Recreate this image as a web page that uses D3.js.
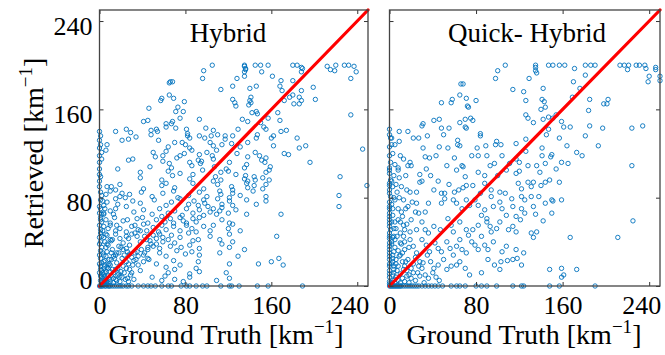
<!DOCTYPE html>
<html><head><meta charset="utf-8">
<script src="https://cdn.jsdelivr.net/npm/d3@7"></script>
<style>
body{margin:0;background:#fff}
svg{display:block}
text{font-family:"Liberation Serif","Times New Roman",serif;fill:#000}
</style>
</head><body>
<svg id="c" width="665" height="355"></svg>
<script>
const panelTitles = ["Hybrid", "Quick- Hybrid"];
const tickValues = [0, 80, 160, 240];
const axisDomain = [0, 250];
const xAxisTitle = "Ground Truth [km";
const yAxisTitle = "Retrieved [km";

// [ground truth, retrieved]
const hybridPoints = [
[105,200],[97,195],[96,188],[135,200],[135,199],[136,197],[136,196],[135,194],[135,190],[145,200],[150,200],[151,194],[157,200],[161,190],[169,186],[180,200],[184,200],[188,198],[189,197],[188,194],[212,199],[215,196],[219,195],[220,200],[228,200],[232,200],[237,199],[239,194],[234,188],[124,181],[128,188],[113,178],[146,181],[140,179],[168,181],[170,177],[180,186],[199,180],[188,177],
[65,184],[66,185],[68,185],[57,168],[58,170],[65,173],[69,170],[79,167],[73,162],[46,161],[71,158],[75,152],[78,158],[68,149],[62,147],[67,147],[41,149],[45,150],[93,151],[71,143],[99,143],[82,138],[82,136],[84,134],[53,142],[54,140],[48,141],[48,137],[55,132],[15,140],[25,142],[29,139],[34,135],[21,132],[27,133],[93,136],[98,134],[104,136],[117,136],[103,130],[114,128],[0,132],[70,130],
[234,155],[245,124],[249,91],[224,99],[223,82],[223,72],[196,112],[192,127],[184,134],[176,119],[172,120],[169,65],[165,45],[167,25],[171,19],[148,20],[160,22],
[124,169],[140,168],[141,171],[177,171],[180,173],[201,169],[172,168],[186,171],[188,168],
[126,166],[127,163],[139,164],[141,166],[181,165],[186,165],
[146,158],[147,156],[166,157],[142,157],
[133,151],[138,149],[150,148],[157,152],[168,150],
[62,144],[81,142],[106,141],[129,142],[153,144],[155,142],[169,140],[174,141],
[110,137],[117,133],[124,136],[146,134],[147,137],[160,134],[162,136],
[7,128],[64,126],[77,130],[80,128],[84,125],[106,127],[123,129],[131,126],[138,130],[162,127],[186,125],
[2,121],[6,123],[50,121],[52,117],[59,118],[62,122],[75,118],[79,120],[86,123],[93,119],[100,121],[105,118],[109,123],[128,120],[138,117],[145,121],[149,118],
[2,115],[27,114],[31,115],[59,113],[65,111],[72,116],[84,112],[92,114],[94,111],[95,113],[106,115],[121,112],[137,110],[151,114],[154,112],[155,116],
[17,106],[38,103],[47,108],[64,104],[67,107],[75,102],[86,109],[96,105],[107,108],[113,103],[118,106],[120,104],[135,107],[155,103],[158,105],[159,108],
[0,101],[1,99],[38,98],[58,96],[68,100],[84,97],[87,101],[106,95],[108,99],[113,96],[127,101],[135,97],[136,100],[138,95],[144,99],[145,96],[152,98],[158,96],
[7,90],[11,90],[15,87],[19,92],[41,88],[58,91],[62,93],[70,89],[87,93],[97,88],[110,92],[123,90],[124,87],[137,93],[138,89],[144,91],[152,88],[155,92],
[1,85],[2,82],[10,86],[19,81],[21,84],[24,80],[28,83],[39,85],[49,81],[59,84],[69,86],[73,80],[83,82],[93,85],[100,81],[112,86],[113,83],[121,80],[124,84],[131,82],[143,86],[155,81],
[1,78],[4,73],[7,76],[15,79],[17,74],[25,72],[31,77],[38,75],[51,78],[62,73],[67,76],[75,79],[83,74],[88,77],[92,73],[97,78],[98,75],[101,72],[110,79],[114,74],[121,77],[124,73],[137,78],[146,74],[155,77],
[1,70],[4,66],[10,68],[13,65],[15,70],[32,67],[41,69],[49,65],[56,70],[64,66],[70,68],[77,64],[81,70],[87,66],[93,69],[97,64],[103,67],[106,70],[109,65],[112,68],[114,71],[120,66],[127,69],[137,65],
[1,62],[2,58],[6,60],[10,57],[14,62],[22,59],[35,61],[45,57],[53,60],[58,63],[61,58],[66,61],[69,57],[75,62],[78,59],[81,57],[87,61],[90,58],[93,62],[114,60],[121,57],
[0,55],[1,51],[4,54],[15,50],[16,55],[19,52],[25,49],[30,54],[36,51],[41,56],[44,50],[50,53],[55,49],[58,55],[62,51],[69,54],[75,50],[81,55],[86,52],[90,49],[97,54],[103,50],[106,55],[120,52],[124,56],[131,50],
[1,48],[4,44],[7,46],[10,42],[15,47],[19,43],[25,45],[33,48],[44,42],[50,46],[53,43],[56,47],[59,44],[64,42],[67,46],[75,44],[83,48],[92,42],[103,45],[112,42],[121,47],
[1,40],[2,35],[7,38],[11,41],[18,36],[22,39],[25,34],[28,37],[38,40],[45,35],[53,38],[56,34],[59,40],[66,36],[70,39],[76,35],[84,37],[87,41],[93,34],[114,38],[121,35],[124,40],
[1,32],[4,28],[7,31],[13,27],[16,30],[22,33],[28,29],[35,31],[41,28],[45,33],[56,30],[62,27],[72,32],[80,29],[86,31],[93,28],[112,30],[129,27],[135,33],
[1,25],[2,21],[5,23],[8,19],[11,24],[16,21],[21,25],[27,20],[32,23],[36,19],[41,22],[45,25],[53,20],[69,23],[75,19],[92,22],[121,20],
[1,18],[2,14],[4,16],[5,12],[7,17],[10,13],[15,15],[18,11],[25,16],[30,12],[38,14],[62,17],[64,12],[70,15],[84,11],[90,16],[93,13],[118,12],
[1,9],[1,5],[3,7],[4,10],[6,6],[8,9],[10,4],[13,7],[16,5],[19,9],[24,6],[27,4],[49,8],[58,5],[61,9],[70,6],[78,4],[84,8],[109,5],[121,7],
[0,0],[1,0],[2,0],[3,0],[4,1],[5,0],[6,0],[7,1],[8,0],[9,0],[10,0],[12,0],[14,0],[16,0],[18,0],[20,0],[22,0],[25,0],[27,0],[30,0],[36,0],[41,0],[45,0],[48,0],[52,0],[58,0],[64,0],[67,0],[76,0],[81,0],[84,0],[90,0],[96,0],[100,0],[113,0],[121,0],[123,0],[130,0],[147,0],[157,0],[189,0],
[2,3],[3,2],[5,4],[4,2],[6,2],[8,3],[3,12],[2,8],[1,15],[5,18],[9,20],[12,15],[14,25],[11,30],[3,30],[6,35],[2,45],[8,52],[1,60],[4,65],[12,42],[0,12],[0,20],[0,28],[0,38],[0,44],[0,66],[0,72],[0,90],[0,95],[0,106],[0,112],[0,125],[1,128],[0,118],[0,140],[1,136],
[3,5],[5,8],[7,4],[9,6],[11,9],[13,3],[15,6],[17,10],[19,4],[21,8],[23,12],[26,7],[29,10],[32,6],[6,13],[8,16],[10,19],[13,12],[17,16],[20,13],[22,18],[25,22],[28,15],[31,19],[34,24],[4,22],[6,27],[9,24],[12,33],[15,28],[18,30],[20,35],[23,28],[26,31],[30,26],[33,30],[36,27],[39,33],[42,30],[46,24],[48,38],[5,40],[8,37],[3,50],[6,47],[10,55],[2,65],[5,70],[3,77],[6,83],[35,45],[38,50],[42,45],[47,41],[50,36],[27,43],[30,47],[33,55],[26,60],[40,62]
];

const quickPoints = [
[107,200],[135,200],[135,198],[135,195],[136,193],[147,200],[151,200],[157,200],[162,200],[171,197],[181,200],[186,200],[190,200],[213,200],[217,200],[220,196],[221,200],[228,200],[231,200],[236,200],[237,197],[246,196],[246,198],[250,190],[240,190],
[100,195],[98,188],[129,188],[181,191],[239,185],[250,186],[170,185],
[66,183],[68,183],[114,178],[124,176],[142,179],[176,179],
[48,166],[58,169],[57,166],[65,173],[71,170],[80,168],[126,168],[141,169],[143,167],[169,171],[185,169],[198,165],[202,169],
[73,162],[72,163],[126,155],[144,162],[140,160],[147,153],[154,155],[184,159],[201,165],
[41,150],[46,151],[31,147],[30,145],[70,151],[75,152],[77,150],[65,148],[71,143],[128,152],[133,148],[142,151],[151,152],[161,144],[167,144],[159,149],[185,145],[197,143],[224,143],[234,145],
[17,140],[2,134],[9,131],[22,134],[27,134],[35,136],[48,143],[50,137],[55,143],[63,132],[70,144],[84,136],[84,138],[99,131],[103,128],[117,129],[126,133],[145,137],[147,142],[157,134],[164,127],[181,136],
[31,125],[46,126],[54,125],[63,128],[65,127],[81,125],[89,127],[98,128],[126,122],[141,125],[141,118],[150,119],[165,111],[173,121],[178,118],[193,127],[224,109],
[128,109],[136,109],[139,103],[144,111],[149,117],[154,106],[159,112],
[128,94],[131,90],[133,94],[140,91],[144,94],[148,96],[157,94],
[125,78],[131,81],[138,81],[144,75],[150,78],[151,77],[159,78],
[125,66],[133,72],[135,65],[142,59],[150,66],
[131,48],[133,44],[136,49],[167,44],[211,44],[225,59],
[148,15],[159,16],[161,10],[173,15],[159,8],
[0,142],[0,137],[1,134],[0,126],[0,118],[1,112],[0,107],[0,105],[0,102],[1,96],[0,93],[0,91],[0,87],[0,84],[1,81],[0,76],[0,72],[0,70],[0,66],[0,63],[0,60],[0,57],[0,54],[1,51],[0,48],[0,45],[0,43],[0,39],[0,36],[0,33],[0,30],[0,27],[0,24],[0,20],[0,18],[0,14],[0,11],[0,8],[0,4],[0,2],
[9,140],[5,128],[8,107],[9,98],[3,90],[4,80],[2,74],[3,64],[2,58],[4,52],[3,44],[2,38],[4,31],[3,25],[2,20],[4,15],[3,10],[5,6],[2,3],
[10,118],[13,115],[19,112],[17,109],[20,109],[33,117],[37,116],[43,118],[60,116],[67,109],[68,108],[76,118],[82,118],[90,118],[93,109],[97,111],[104,118],[111,111],[117,115],[120,112],
[8,105],[28,101],[34,106],[53,109],[62,105],[70,99],[82,103],[88,100],[100,100],[108,105],[117,102],[120,104],
[11,90],[16,87],[28,94],[41,87],[48,84],[51,84],[64,87],[68,89],[71,91],[77,91],[84,84],[88,93],[94,87],[102,85],[107,84],[119,93],[122,88],
[8,70],[11,67],[17,72],[21,76],[25,75],[24,67],[27,66],[36,75],[33,67],[48,75],[51,79],[59,78],[62,75],[67,70],[71,78],[74,73],[79,78],[82,73],[85,64],[88,69],[90,61],[94,81],[96,72],[102,76],[104,70],[108,64],[113,79],[114,72],[117,63],[122,81],[122,70],
[5,58],[10,58],[13,55],[14,51],[19,49],[25,51],[30,58],[33,51],[36,48],[41,54],[47,51],[54,61],[57,55],[59,49],[65,58],[71,51],[73,46],[77,51],[82,55],[85,45],[90,58],[93,54],[94,49],[99,52],[102,58],[110,51],[114,54],[117,49],[121,60],
[5,42],[10,39],[14,33],[19,42],[22,36],[25,30],[30,42],[34,37],[37,31],[42,39],[45,34],[48,31],[53,40],[56,34],[59,28],[62,36],[65,42],[67,33],[71,30],[76,40],[79,37],[82,33],[88,37],[91,33],[96,40],[104,31],[108,36],[117,33],[124,30],
[3,22],[8,18],[13,15],[17,24],[22,12],[27,18],[31,21],[36,7],[41,16],[45,19],[50,24],[53,15],[57,18],[62,19],[65,22],[70,16],[74,10],[85,12],[91,24],[97,19],[102,15],[103,22],[109,23],[114,24],[118,25],[122,19],
[2,2],[3,5],[5,3],[6,8],[8,5],[10,3],[12,7],[4,12],[7,14],[10,11],[14,4],[16,9],[18,3],[20,7],[6,20],[9,27],[12,30],[15,22],[5,35],[7,45],[11,38],[13,45],[3,28],[24,5],[28,9],[32,3],
[4,18],[6,24],[8,32],[10,28],[12,22],[14,18],[16,14],[18,10],[20,16],[22,20],[24,26],[26,12],[28,22],[30,16],[33,10],[35,28],[38,22],[40,12],[43,8],[46,5],[2,40],[4,45],[6,52],[8,60],[10,48],[12,63],[14,40],[16,56],[18,35],[20,60],[3,70],[5,78],[7,85],[9,80],[2,95],[4,100],[6,92],[13,78],[15,70],[19,85],[3,120],[5,110],[2,128],[15,100],[25,85],[30,95],[38,100],[45,95],[55,92],[60,85],
[0,0],[1,0],[2,0],[3,0],[4,0],[5,0],[6,0],[7,0],[8,0],[9,0],[10,0],[11,0],[13,0],[15,0],[17,0],[19,0],[21,0],[23,0],[25,0],[27,0],[30,0],[33,0],[36,0],[39,0],[42,0],[45,0],[49,0],[57,0],[62,0],[65,0],[70,0],[80,0],[85,0],[90,0],[99,0],[114,0],[122,0],[124,0],[148,0],[157,0],[190,0]
];

const FONT = '"Liberation Serif","Times New Roman",serif';
const svg = d3.select("#c");
const panels = [
  {title: panelTitles[0], pts: hybridPoints, left: 99.5, right: 368, showY: true, titleX: 228, xLabelX: 226},
  {title: panelTitles[1], pts: quickPoints, left: 389.5, right: 660, showY: false, titleX: 527, xLabelX: 524}
];
const plotTop = 10, plotBottom = 286;

panels.forEach(p => {
  const x = d3.scaleLinear().domain(axisDomain).range([p.left, p.right]);
  const y = d3.scaleLinear().domain(axisDomain).range([plotBottom, plotTop]);
  const g = svg.append("g");

  g.append("g").selectAll("circle").data(p.pts).join("circle")
    .attr("cx", d => x(d[0])).attr("cy", d => y(d[1])).attr("r", 2.2)
    .attr("fill", "none").attr("stroke", "#0072BD").attr("stroke-width", 0.9);

  g.append("line")
    .attr("x1", x(axisDomain[0])).attr("y1", y(axisDomain[0]))
    .attr("x2", x(axisDomain[1])).attr("y2", y(axisDomain[1]))
    .attr("stroke", "#FF0000").attr("stroke-width", 3.2).attr("stroke-linecap", "round");

  const axisStyle = sel => {
    sel.attr("font-family", FONT);
    sel.select(".domain").remove();
    sel.selectAll(".tick line").attr("stroke", "#333").attr("stroke-width", 1);
    sel.selectAll(".tick text").attr("font-size", 26).attr("font-family", FONT).attr("fill", "#000");
  };
  const bx = g.append("g").attr("transform", `translate(0,${plotBottom})`)
    .call(d3.axisBottom(x).tickValues(tickValues).tickSizeInner(-4).tickSizeOuter(0).tickPadding(6));
  axisStyle(bx);
  bx.selectAll(".tick text").attr("dy", "0.83em").attr("dx", d => d === 240 ? -8 : 0);
  const tx = g.append("g").attr("transform", `translate(0,${plotTop})`)
    .call(d3.axisTop(x).tickValues(tickValues).tickSizeInner(-4).tickSizeOuter(0).tickFormat(""));
  axisStyle(tx);
  const ly = g.append("g").attr("transform", `translate(${p.left},0)`)
    .call(d3.axisLeft(y).tickValues(tickValues).tickSizeInner(-4).tickSizeOuter(0).tickPadding(7));
  axisStyle(ly);
  if (!p.showY) ly.selectAll(".tick text").remove();
  else ly.selectAll(".tick text").attr("dy", d => d === 0 ? "0.1em" : "0.5em");
  const ry = g.append("g").attr("transform", `translate(${p.right},0)`)
    .call(d3.axisRight(y).tickValues(tickValues).tickSizeInner(-4).tickSizeOuter(0).tickFormat(""));
  axisStyle(ry);

  g.append("rect").attr("x", p.left).attr("y", plotTop)
    .attr("width", p.right - p.left).attr("height", plotBottom - plotTop)
    .attr("fill", "none").attr("stroke", "#444").attr("stroke-width", 1.3);

  g.append("text").attr("x", p.titleX).attr("y", 42).attr("text-anchor", "middle")
    .attr("font-family", FONT).attr("font-size", 27).text(p.title);

  const xl = g.append("text").attr("x", p.xLabelX).attr("y", 344).attr("text-anchor", "middle")
    .attr("font-family", FONT).attr("font-size", 28);
  xl.append("tspan").text(xAxisTitle);
  xl.append("tspan").attr("font-size", 19).attr("dy", -11).text("\u22121");
  xl.append("tspan").attr("dy", 11).text("]");
});

const yl = svg.append("text").attr("transform", "translate(43,153) rotate(-90)")
  .attr("text-anchor", "middle").attr("font-family", FONT).attr("font-size", 28);
yl.append("tspan").text(yAxisTitle);
yl.append("tspan").attr("font-size", 19).attr("dy", -11).text("\u22121");
yl.append("tspan").attr("dy", 11).text("]");
</script>
</body></html>
